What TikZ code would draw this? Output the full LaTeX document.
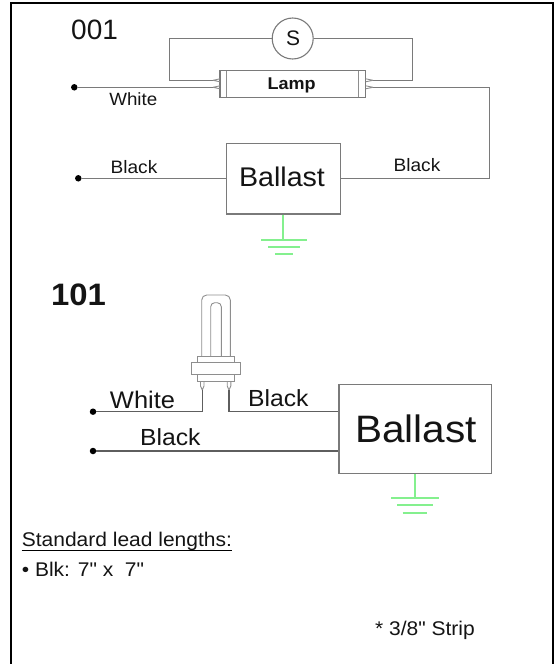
\documentclass[tikz,border=0pt]{standalone}
\usepackage{fontspec}
\setmainfont{Liberation Sans}[Ligatures=TeXOff,FakeStretch=1.06]
\newfontfamily\plainf{Liberation Sans}[Ligatures=TeXOff]
\definecolor{wire}{HTML}{7A7A7A}
\definecolor{wiretwo}{HTML}{5E5E5E}
\definecolor{gndc}{HTML}{84F08E}
\definecolor{ink}{HTML}{141414}
\tikzset{
  wireline/.style={draw=wire,line width=1.1pt},
  wirelinetwo/.style={draw=wiretwo,line width=1.1pt},
  gndline/.style={draw=gndc,line width=1.1pt},
  lampline/.style={draw=wire!85,line width=0.9pt},
  termdot/.style={circle,fill=black,inner sep=0pt,minimum size=6.5pt},
  boxnode/.style={draw=wire,line width=1.1pt,rectangle,inner sep=0pt,fill=white,text=ink},
  lbl/.style={inner sep=0pt,text=ink,anchor=base},
  lblL/.style={inner sep=0pt,text=ink,anchor=base west}
}
\newcommand{\fs}[1]{\fontsize{#1}{#1}\selectfont}
\begin{document}
\begin{tikzpicture}[x=1pt,y=-1pt]
\useasboundingbox (0,0) rectangle (559,664);
\draw[black,line width=2pt] (11,664) -- (11,3) -- (552.5,3) -- (552.5,664);
% ---- 001
\node[lblL,font=\plainf\fs{28}] (t001) at (71,39.3) {001};
\node[boxnode,circle,minimum width=41pt] (sw) at (292.7,38.5) {};
\node[lbl,font=\plainf\fs{21}] (swt) at (293,45) {S};
\node[boxnode,minimum width=145.7pt,minimum height=26.3pt] (lamp1) at (292.8,83.9) {};
\node[lbl,font=\bfseries\fs{17}] (lamp1t) at (291.7,89.3) {Lamp};
\draw[lampline] (226,70.7) -- (226,97) (358,70.7) -- (358,97);
\coordinate (la) at (213,80.3); \coordinate (lb) at (213,87.3);
\coordinate (ra) at (373,80.3); \coordinate (rb) at (373,87.3);
\coordinate (tl) at (169.3,38.5); \coordinate (tr) at (412.7,38.5);
\draw[wireline] (sw.west) -- (tl) -- (169.3,80.3) -- (la);
\draw[wireline] (sw.east) -- (tr) -- (412.7,80.3) -- (ra);
\foreach \yy in {80.3,87.3}{
  \draw[lampline] (213,\yy) -- (220,\yy-1.5) (213,\yy) -- (220,\yy+1.5);
  \draw[lampline] (373,\yy) -- (365.7,\yy-1.5) (373,\yy) -- (365.7,\yy+1.5);
}
\node[termdot] (d1) at (74.3,87.3) {};
\node[termdot] (d2) at (78.3,178.3) {};
\node[boxnode,minimum width=114pt,minimum height=70.3pt] (ball1) at (283.7,178.8) {};
\node[lbl,font=\fs{27}] (ball1t) at (282,186.7) {Ballast};
\draw[wireline] (d1) -- (lb);
\draw[wireline] (rb) -- (489.3,87.3) -- (489.3,178.8) -- (ball1.east);
\draw[wireline] (d2) -- (d2 -| ball1.west);
\node[lbl,font=\fs{17.7}] (w1) at (133.3,105) {White};
\node[lbl,font=\fs{18}] (b1) at (134,173.3) {Black};
\node[lbl,font=\fs{18}] (b2) at (417,171.7) {Black};
\coordinate (g1) at (283,240);
\draw[gndline] (ball1.south -| g1) -- (g1);
\draw[gndline] (261,240) -- (306.7,240) (268,247) -- (300,247) (275,254) -- (293,254);
% ---- 101
\node[lblL,font=\bfseries\fs{31}] (t101) at (51,305) {101};
\draw[lampline,rounded corners=5pt] (201.7,356) -- (201.7,295) -- (230.3,295) -- (230.3,356);
\draw[lampline,rounded corners=4pt] (210.7,356) -- (210.7,302.7) -- (221.3,302.7) -- (221.3,356);
\node[draw=wire!85,line width=0.9pt,inner sep=0pt,minimum width=37.7pt,minimum height=25.7pt] (base) at (215.8,368.8) {};
\node[draw=wire!85,line width=0.9pt,fill=white,inner sep=0pt,minimum width=49pt,minimum height=11.3pt] (flange) at (215.8,368.3) {};
\coordinate (p1) at (202.3,390); \coordinate (p2) at (229,390);
\draw[lampline] (200.5,381.7) -- (200.5,386) -- (p1) -- (204,386) -- (204,381.7);
\draw[lampline] (227.2,381.7) -- (227.2,386) -- (p2) -- (230.8,386) -- (230.8,381.7);
\node[termdot] (d3) at (93,411.7) {};
\node[termdot] (d4) at (93,451) {};
\node[boxnode,minimum width=152.7pt,minimum height=89pt] (ball2) at (415.3,428.8) {};
\node[lbl,font=\fs{38.2}] (ball2t) at (416,442.7) {Ballast};
\draw[wirelinetwo] (d3) -- (202.3,411.7) -- (p1);
\draw[wirelinetwo] (p2) -- (229,411.2) -- (ball2.west |- 0,411.2);
\draw[wirelinetwo] (d4) -- (d4 -| ball2.west);
\node[lbl,font=\fs{24}] (w2) at (142.5,408.3) {White};
\node[lbl,font=\fs{23.3}] (b3) at (278.3,406) {Black};
\node[lbl,font=\fs{23.3}] (b4) at (170.3,445.7) {Black};
\coordinate (g2) at (415,498);
\draw[gndline] (ball2.south -| g2) -- (g2);
\draw[gndline] (391,498) -- (439,498) (397,505) -- (433,505) (402.7,513) -- (427,513);
% ---- notes
\node[lblL,font=\fs{19.8}] (n1) at (21.7,546.7) {Standard lead lengths:};
\draw[black,line width=1.2pt] ([yshift=-3.6pt]n1.base west) -- ([yshift=-3.6pt]n1.base east);
\node[lblL,font=\fs{19.8}] (n2) at (21.7,576.7) {• Blk: 7" x\ \ 7"};
\node[lblL,font=\fs{19.8}] (n3) at (375,635) {* 3/8" Strip};
\end{tikzpicture}
\end{document}
